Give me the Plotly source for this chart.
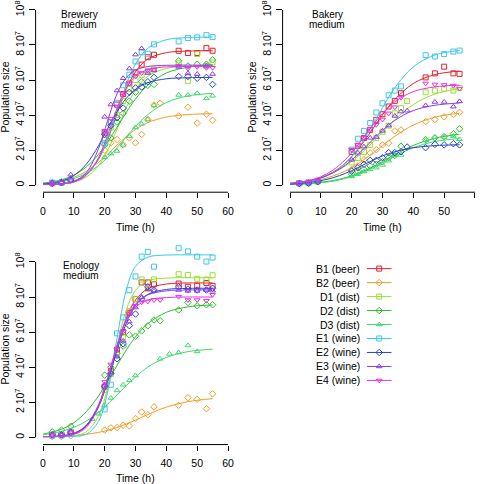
import plotly.graph_objects as go

N = None

STRAINS = ["B1 (beer)", "B2 (beer)", "D1 (dist)", "D2 (dist)", "D3 (dist)",
           "E1 (wine)", "E2 (wine)", "E3 (wine)", "E4 (wine)"]
COLORS = ["#E8202A", "#F39C27", "#9ADF34", "#2DBE2D", "#3CDB6A",
          "#3CC8EC", "#2846C8", "#8C3CE6", "#E632E6"]
SYMBOLS = ["square-open", "diamond-open", "square-open", "diamond-open", "triangle-up-open",
           "square-open", "diamond-open", "triangle-up-open", "triangle-down-open"]

# sampling times of the measured points (h)
TIMES = [3, 6, 9, 16, 18, 20, 22, 24, 26, 28, 30, 32, 34, 36, 38, 41, 44, 47, 50, 53, 55]
# times at which the fitted curves were read (h)
CURVE_TIMES = [0, 6, 10, 14, 18, 21, 24, 27, 30, 34, 40, 47, 55]

# population size, in millions of cells; one row per strain (order of STRAINS)
brewery_points = [
    [1.2, 1.5, 3, N, N, 30, 36, 46, 52, 58, 64.4, 68.8, 73, 74.4, N, N, 76.7, 75.4, 75.4, 78.2, 76.7],
    [1, 1.5, 3, N, N, 20, 24.2, 26.1, 23, 27, 24.2, 29, 37.5, 45.8, 46.8, N, 39.5, 44.5, 35.5, 40.5, 37],
    [1.2, 1.5, 3, N, N, 26, 33, 40, 48, 55, 60, 63, 65, 66, N, N, 69.5, 59.5, 74.8, 68, 70],
    [1.5, 2, 3.5, N, N, 23, 27, 36, 41, 48, 53, 59, 57, 57.5, N, N, 71, 68, 69, 69, 71.5],
    [1, 1.5, 3, N, N, 16, 18, 19.5, 23, 28, 33, 35, 37.5, 45.5, N, N, 51.5, 51.5, 52.5, 49.5, 51],
    [1.5, 1.5, 3, N, N, 24, 36, 47, 57, 63, 70.6, 75.8, 75, 80.3, N, N, 82, 84, 84.3, 85.6, 84.5],
    [1, 1.5, 3, N, N, 29, 34, 38.5, 44, 53, 55.5, 56, 59, 61.5, N, N, 62, 62, 61, 61.5, 57.5],
    [1.5, 1.5, 6, N, N, 39, 46, 54, 61, 66.5, 74.5, 78, 64, 65.5, N, N, 67.5, 63.8, 63.4, 68, 63.4],
    [1, 1.5, 3, N, N, 31, 38, 45, 52, 58, 62, 64, 65.5, 66, N, N, 68, 66.5, 67.5, 67, 67],
]
brewery_curves = [
    [0.6, 1.0, 2.2, 6.0, 14.8, 26.3, 40.8, 54.7, 64.7, 72.0, 75.6, 76.5, 76.7],
    [0.9, 2.4, 4.5, 7.9, 13.0, 17.8, 22.9, 27.7, 31.8, 35.7, 38.9, 40.3, 40.8],
    [0.6, 0.9, 1.8, 4.6, 11.2, 20.0, 31.9, 44.3, 54.3, 62.2, 66.6, 67.8, 68.0],
    [1.2, 3.1, 5.8, 10.4, 17.6, 24.8, 33.1, 41.5, 49.2, 57.1, 64.0, 67.3, 68.6],
    [0.85, 2.1, 3.8, 6.7, 11.2, 15.9, 21.4, 27.6, 33.5, 40.3, 47.2, 50.9, 52.4],
    [0.6, 0.9, 2.5, 6.4, 15.4, 27.1, 42.3, 57.4, 69.1, 78.1, 83.0, 84.2, 84.5],
    [0.7, 2.4, 5.5, 11.9, 22.5, 32.4, 42.0, 49.6, 54.7, 58.5, 60.7, 61.3, 61.5],
    [0.5, 0.8, 2.1, 7.1, 20.9, 37.1, 52.1, 61.3, 65.6, 67.7, 68.4, 68.5, 68.5],
    [0.5, 0.8, 1.8, 5.6, 15.7, 28.9, 43.8, 55.5, 62.2, 66.0, 67.5, 67.8, 67.8],
]

bakery_points = [
    [1.2, 1.5, 2.5, N, N, 19, 22.5, 27, 31.6, 37.3, 40.5, 44.9, 48.1, 52.5, N, N, 61.5, 63.8, 67.6, 63.8, 63.5],
    [1, 1.2, 2, N, N, 9, 11, 14.5, 18.4, 20.3, 23, 24, 31, 31.5, N, N, 36.3, 37.5, 39, 40.3, 41.6],
    [1, 1.2, 2, N, N, 13, 15.5, 19, 23, 27, 30.5, 34, 41, 44, 48, N, 53, 54, 55.1, 54, 55.5],
    [1, 1.2, 2, N, N, 6.3, 7.6, 9, 11, 12, 13.4, 15.7, 17, 22.3, N, N, 26, 27, 27.7, 29.4, 32.2],
    [1, 1.2, 2, N, N, 5, 6.3, 7.8, 9, 10, 11.6, 14, 17, 17.3, N, N, 25.6, 27.3, 27.5, 28, 26.2],
    [1.2, 1.5, 2.5, N, N, 20.3, 26.5, 31, 35.5, 41.5, 46.7, 51.3, 54, 56.4, N, N, 74.2, 73.4, 74.8, 76.2, 76.8],
    [1, 1.2, 2, N, N, 8.1, 10, 11.9, 14.2, 14.2, 15.7, 18.6, 18.6, 19.1, 21.8, N, 21.4, 23.3, 23, 23.7, 23],
    [1.2, 1.5, 2.5, N, N, 14.5, 18.5, 22, 27, 27.5, 31, 34, 39.5, 42, 42.5, N, 45.5, 47.5, 47.5, 44.8, 47.8],
    [1.2, 1.5, 2.5, N, N, 20.3, 23, 27, 32, 34.5, 37.5, 41, 44.5, 50, N, N, 58.1, 57.5, 57.2, 56.8, 55.1],
]
bakery_curves = [
    [1.0, 2.4, 4.3, 7.5, 12.7, 18.3, 25.0, 32.5, 40.1, 48.9, 58.0, 63.1, 65.1],
    [1.0, 2.0, 3.3, 5.3, 8.2, 11.1, 14.6, 18.5, 22.6, 27.9, 34.3, 38.8, 41.1],
    [1.3, 2.7, 4.4, 7.1, 11.0, 14.9, 19.6, 24.8, 30.3, 37.4, 46.0, 52.0, 55.1],
    [0.5, 1.0, 1.7, 2.7, 4.3, 6.0, 8.2, 10.6, 13.5, 17.5, 22.7, 26.8, 29.1],
    [0.4, 0.8, 1.4, 2.3, 3.9, 5.4, 7.5, 10.0, 12.8, 16.6, 21.4, 24.9, 26.6],
    [0.8, 2.1, 4.0, 7.2, 12.6, 18.5, 26.1, 34.9, 44.2, 55.6, 67.5, 74.3, 76.9],
    [0.6, 1.5, 2.6, 4.3, 6.8, 9.1, 11.8, 14.3, 16.7, 19.1, 21.4, 22.6, 23.1],
    [1.0, 2.4, 4.2, 7.1, 11.5, 15.9, 20.9, 26.2, 31.3, 37.0, 42.6, 45.6, 46.9],
    [1.0, 2.6, 4.8, 8.7, 14.7, 20.6, 27.6, 34.6, 41.0, 47.6, 53.4, 56.1, 57.1],
]

enology_points = [
    [1.5, 1.5, 3, N, N, 29, 38, 50, 60, 71, 78.8, 88.3, 88.3, 87.3, N, N, 87.7, 85.8, 86.4, 88, 86.4],
    [0.5, 0.5, 1, N, N, 4.2, 5.5, 5.7, 7, 6.6, 10.8, 14.5, 13, 17.4, N, N, 18.3, 22.7, 21.7, 16.4, 24.9],
    [1.5, 1.5, 3, N, N, 27, 36, 47, 57, 72, 79, 90, 84.5, 90, N, N, 93, 92.6, 90.4, 90, 92.4],
    [3.2, 4.2, 6.4, N, N, 35.5, 40, 48, 52, 58.4, 57.7, 60.7, 63.6, 66.9, 66.5, N, 72.6, 76.9, 75, 75.6, 75.6],
    [1, 1.5, 3, 10.5, 13.5, 18.5, 22.5, 26.8, 30, 32.5, 35.3, N, N, N, 44.8, 47.6, 48.4, 52.4, 49, N, N],
    [1, 1.2, 2.5, N, N, 16, 30, 59.3, 68.4, 83.9, 91.7, 103, 105.7, 97.3, N, N, 107.8, 106, 103, 100.2, 102.5],
    [1.5, 1.5, 3, N, N, 29, 36.5, 44.8, 53.3, 63.7, 70.3, 79, 85.8, 84, N, N, 85.8, 84.5, 84, 84, 85],
    [1.5, 1.5, 3, N, N, 30, 37, 46, 55, 66, 74, 80, 84.5, 83.5, N, N, 84, 83.5, 83.5, 84, 83.6],
    [1.5, 1.5, 3, N, N, 31.6, 41.6, 50, 60.3, 70.7, 75, 77, 77.5, 78.3, 78.3, N, 80.2, 78.3, 78.3, 77.9, 81.3],
]
enology_curves = [
    [0.5, 0.8, 2.1, 6.3, 17.5, 32.8, 51.6, 67.9, 78.3, 84.7, 87.4, 88, 88],
    [0.5, 0.7, 1.1, 1.8, 2.9, 4.1, 5.7, 7.7, 9.9, 13.1, 17.3, 20.4, 22.1],
    [0.5, 0.6, 0.9, 3.2, 12.2, 28.4, 52.1, 72.5, 83.8, 89.2, 90.8, 91, 91],
    [1.9, 4.7, 8.4, 14.6, 23.6, 32, 41, 49.8, 57.3, 64.8, 71.3, 74.4, 75.5],
    [1.5, 3.5, 5.8, 9.3, 14.3, 19, 24.2, 29.5, 34.5, 40.1, 45.6, 48.9, 50.3],
    [0.5, 0.5, 0.6, 1.8, 9.1, 26.2, 56.4, 83.9, 97.4, 102.7, 103.9, 104, 104],
    [0.5, 0.9, 2.3, 6.7, 17.7, 32.1, 49.6, 65, 75.1, 81.5, 84.3, 84.9, 85],
    [0.5, 0.9, 2.3, 6.9, 18.7, 34.1, 52.1, 66.9, 75.9, 81.2, 83.5, 84, 84],
    [0.5, 0.7, 1.7, 5.7, 17.4, 33.7, 52.4, 66.6, 74.2, 78.3, 79.7, 80, 80],
]

X_TICKS = [0, 10, 20, 30, 40, 50, 60]
Y_TICKS = [0, 20, 40, 60, 80, 100]
Y_TICKTEXT = ["0", "2 10<sup>7</sup>", "4 10<sup>7</sup>", "6 10<sup>7</sup>",
              "8 10<sup>7</sup>", "10<sup>8</sup>"]

W, H = 480, 484
FONT = "Liberation Sans, Arial, Helvetica, sans-serif"


def fx(p):
    return p / W


def fy(p):
    return 1 - p / H


panels = [
    dict(points=brewery_points, curves=brewery_curves, xa="x", ya="y",
         title=("Brewery", "medium"), tpos=(79, 12.5, 23)),
    dict(points=bakery_points, curves=bakery_curves, xa="x2", ya="y2",
         title=("Bakery", "medium"), tpos=(327, 12.5, 23)),
    dict(points=enology_points, curves=enology_curves, xa="x3", ya="y3",
         title=("Enology", "medium"), tpos=(81, 265, 275)),
]

fig = go.Figure()

for p in panels:
    for i, name in enumerate(STRAINS):
        fig.add_trace(go.Scatter(
            x=TIMES, y=p["points"][i], mode="markers", xaxis=p["xa"], yaxis=p["ya"],
            marker=dict(symbol=SYMBOLS[i], size=5, color=COLORS[i],
                        line=dict(color=COLORS[i], width=1)),
            cliponaxis=False, showlegend=False, hoverinfo="skip"))
        fig.add_trace(go.Scatter(
            x=CURVE_TIMES, y=p["curves"][i], mode="lines", xaxis=p["xa"], yaxis=p["ya"],
            line=dict(color=COLORS[i], width=1, shape="spline", smoothing=1),
            showlegend=False, hoverinfo="skip"))

# custom legend (text left of the line/marker sample)
for i, name in enumerate(STRAINS):
    fig.add_trace(go.Scatter(
        x=[0, 1], y=[i, i], mode="lines", xaxis="x4", yaxis="y4",
        line=dict(color=COLORS[i], width=1), showlegend=False, hoverinfo="skip"))
    fig.add_trace(go.Scatter(
        x=[0.5], y=[i], mode="markers", xaxis="x4", yaxis="y4",
        marker=dict(symbol=SYMBOLS[i], size=5, color=COLORS[i],
                    line=dict(color=COLORS[i], width=1)),
        showlegend=False, hoverinfo="skip", cliponaxis=False))

common_x = dict(showgrid=False, zeroline=False, showline=False, ticks="outside",
                ticklen=5, tickwidth=1, tickcolor="black", tickvals=X_TICKS,
                ticklabelstandoff=4,
                tickfont=dict(family=FONT, size=10.5, color="black"))
common_y = dict(showgrid=False, zeroline=False, showline=False, ticks="outside",
                ticklen=6, tickwidth=1, tickcolor="black", tickvals=Y_TICKS,
                ticktext=Y_TICKTEXT, tickangle=-90, ticklabeloverflow="allow",
                tickfont=dict(family=FONT, size=10.5, color="black"))

top_dom = [fy(191), 1.0]
fig.update_layout(
    xaxis=dict(domain=[fx(35.6), fx(235.4)], range=[-2.4, 62.4], anchor="y", **common_x),
    yaxis=dict(domain=top_dom, range=[-3.98, 104.5], anchor="x", **common_y),
    xaxis2=dict(domain=[fx(282.6), 1.0], range=[-2.4, 61.63], anchor="y2", **common_x),
    yaxis2=dict(domain=top_dom, range=[-3.98, 104.5], anchor="x2", **common_y),
    xaxis3=dict(domain=[fx(35.6), fx(235.4)], range=[-2.4, 62.4], anchor="y3", **common_x),
    yaxis3=dict(domain=[fy(444.4), fy(243)], range=[-4.03, 110.2], anchor="x3", **common_y),
    xaxis4=dict(domain=[fx(366.7), fx(391.7)], range=[0, 1], visible=False, anchor="y4"),
    yaxis4=dict(domain=[fy(387), fy(260.7)], range=[8.5, -0.5], visible=False, anchor="x4"),
)

shapes = []
annotations = []
for p in panels:
    xa, ya = p["xa"], p["ya"]
    shapes.append(dict(type="line", xref=xa, yref=ya + " domain", x0=0, x1=60, y0=0, y1=0,
                       line=dict(color="black", width=1)))
    shapes.append(dict(type="line", xref=xa + " domain", yref=ya, x0=0, x1=0, y0=0, y1=100,
                       line=dict(color="black", width=1)))
    cx, y1, y2 = p["tpos"]
    annotations.append(dict(text=p["title"][0], x=fx(cx), y=fy(y1), xref="paper", yref="paper",
                            xanchor="center", yanchor="middle", showarrow=False,
                            font=dict(family=FONT, size=10, color="black")))
    annotations.append(dict(text=p["title"][1], x=fx(cx), y=fy(y2), xref="paper", yref="paper",
                            xanchor="center", yanchor="middle", showarrow=False,
                            font=dict(family=FONT, size=10, color="black")))

axis_titles = [
    ("Time (h)", 135, 226, 0), ("Time (h)", 382.5, 226, 0), ("Time (h)", 135, 477.5, 0),
    ("Population size", 5, 96, -90), ("Population size", 252, 96, -90),
    ("Population size", 5, 349, -90),
]
for text, x, y, ang in axis_titles:
    annotations.append(dict(text=text, x=fx(x), y=fy(y), xref="paper", yref="paper",
                            xanchor="center", yanchor="middle", showarrow=False, textangle=ang,
                            font=dict(family=FONT, size=10.5, color="black")))

for i, name in enumerate(STRAINS):
    annotations.append(dict(text=name, x=fx(362), y=i, xref="paper", yref="y4",
                            xanchor="right", yanchor="middle", showarrow=False,
                            font=dict(family=FONT, size=10.5, color="black")))

fig.update_layout(
    width=W, height=H, margin=dict(l=0, r=0, t=0, b=0),
    paper_bgcolor="white", plot_bgcolor="white",
    shapes=shapes, annotations=annotations, showlegend=False,
    font=dict(family=FONT, size=10.5, color="black"),
)

fig.write_html("out.html", config={"displayModeBar": False},
               post_script="document.body.style.margin='0px';document.body.style.padding='0px';")
